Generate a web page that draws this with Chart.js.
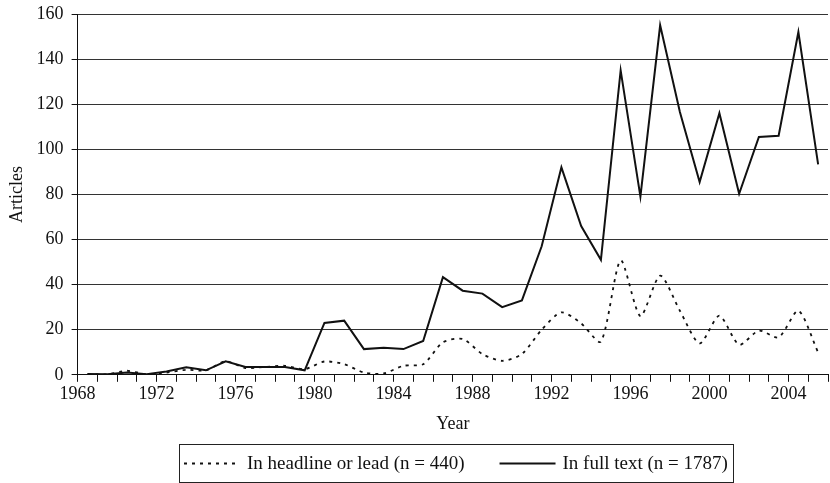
<!DOCTYPE html>
<html>
<head>
<meta charset="utf-8">
<script src="https://cdn.jsdelivr.net/npm/chart.js@4/dist/chart.umd.min.js"></script>
<style>
  html, body { margin: 0; padding: 0; background: #fff; }
  #wrap { width: 830px; height: 483px; }
</style>
</head>
<body>
<div id="wrap"><canvas id="chart"></canvas></div>
<script>
// years of the series (one point per year, plotted mid-year)
const years = [1968, 1969, 1970, 1971, 1972, 1973, 1974, 1975, 1976, 1977,
    1978, 1979, 1980, 1981, 1982, 1983, 1984, 1985, 1986, 1987,
    1988, 1989, 1990, 1991, 1992, 1993, 1994, 1995, 1996, 1997,
    1998, 1999, 2000, 2001, 2002, 2003, 2004, 2005];

const headlineOrLead = [0.3, 0.2, 1.8, 0.2, 1, 2.2, 2, 6, 3, 3.5,
    4, 2.5, 5.9, 4.7, 1, 0.6, 4, 4.7, 14.4, 15.9,
    9.2, 6.2, 9.2, 20, 27.7, 22.8, 14.7, 50.7, 26, 44,
    28.4, 13.9, 26.2, 13.3, 19.6, 16.6, 28.4, 9.9];

const fullText = [0.4, 0.2, 1, 0.3, 1.5, 3.3, 2, 6, 3.5, 3.5,
    3.5, 2, 23, 24, 11.4, 12, 11.4, 15, 43.3, 37.3,
    36, 30, 33, 57, 92, 66, 51, 135, 79, 155,
    116.5, 85.5, 116, 80.3, 105.5, 106, 152, 93.3];

const seriesLabels = ['In headline or lead (n = 440)', 'In full text (n = 1787)'];
const yearLabels = [1968, 1972, 1976, 1980, 1984, 1988, 1992, 1996, 2000, 2004];

const serif = "'Liberation Serif', 'DejaVu Serif', serif";

function toPoints(values) {
    return values.map(function (v, i) {
        return { x: years[i] + 0.5, y: v };
    });
}

// boxed legend under the axis title, drawn like the printed figure
const boxedLegend = {
    id: 'boxedLegend',
    afterDraw: function (chart) {
        const ctx = chart.ctx;
        const area = chart.chartArea;
        const sets = chart.data.datasets;
        const lineLen = 56, textGap = 7, itemGap = 35, pad = 5;

        ctx.save();
        ctx.font = '19px ' + serif;
        const widths = sets.map(function (ds) { return ctx.measureText(ds.label).width; });
        let total = 0;
        widths.forEach(function (w, i) { total += lineLen + textGap + w + (i ? itemGap : 0); });

        const boxW = Math.round(total + pad * 2);
        const boxH = 38;
        const boxLeft = Math.round((area.left + area.right) / 2 - boxW / 2 + 3);
        const boxTop = chart.height - boxH - 1;
        const midY = boxTop + boxH / 2;

        ctx.strokeStyle = '#222';
        ctx.lineWidth = 1;
        ctx.strokeRect(boxLeft + 0.5, boxTop + 0.5, boxW, boxH);

        let x = boxLeft + pad;
        sets.forEach(function (ds, i) {
            if (i) x += itemGap;
            ctx.beginPath();
            ctx.setLineDash(ds.borderDash || []);
            ctx.lineWidth = ds.borderWidth;
            ctx.strokeStyle = ds.borderColor;
            ctx.moveTo(x, Math.round(midY) + 0.5);
            ctx.lineTo(x + lineLen, Math.round(midY) + 0.5);
            ctx.stroke();
            ctx.setLineDash([]);
            x += lineLen + textGap;
            ctx.fillStyle = '#111';
            ctx.textBaseline = 'middle';
            ctx.textAlign = 'left';
            ctx.fillText(ds.label, x, midY + 1);
            x += widths[i];
        });
        ctx.restore();
    }
};

new Chart(document.getElementById('chart'), {
    type: 'line',
    data: {
        datasets: [{
            label: seriesLabels[0],
            data: toPoints(headlineOrLead),
            borderColor: '#111',
            borderWidth: 1.8,
            borderDash: [3, 5],
            tension: 0.25,
            pointRadius: 0,
            fill: false
        }, {
            label: seriesLabels[1],
            data: toPoints(fullText),
            borderColor: '#111',
            borderWidth: 2,
            tension: 0,
            pointRadius: 0,
            fill: false
        }]
    },
    options: {
        responsive: true,
        maintainAspectRatio: false,
        animation: false,
        layout: { padding: { left: 5, right: 0, top: 14, bottom: 48 } },
        plugins: {
            tooltip: { enabled: false },
            legend: { display: false }
        },
        scales: {
            x: {
                type: 'linear',
                min: 1968,
                max: 2006,
                border: { color: '#111', width: 1 },
                grid: {
                    drawOnChartArea: false,
                    drawTicks: true,
                    tickLength: 7,
                    tickColor: '#111'
                },
                ticks: {
                    stepSize: 1,
                    autoSkip: false,
                    maxRotation: 0,
                    padding: 2,
                    color: '#111',
                    font: { family: serif, size: 18 },
                    callback: function (v) {
                        return yearLabels.indexOf(v) >= 0 ? String(v) : '';
                    }
                },
                title: {
                    display: true,
                    text: 'Year',
                    color: '#111',
                    font: { family: serif, size: 18 },
                    padding: { top: 6, bottom: 0 }
                }
            },
            y: {
                min: 0,
                max: 160,
                border: { color: '#111', width: 1 },
                grid: {
                    color: '#333',
                    lineWidth: 1,
                    tickLength: 6,
                    tickColor: '#111'
                },
                ticks: {
                    stepSize: 20,
                    padding: 8,
                    color: '#111',
                    font: { family: serif, size: 18 }
                },
                title: {
                    display: true,
                    text: 'Articles',
                    color: '#111',
                    font: { family: serif, size: 18 },
                    padding: { top: 1, bottom: 1 }
                },
                afterFit: function (scale) {
                    // the top label may overhang the plot, as in the original
                    scale.paddingTop = 0;
                }
            }
        }
    },
    plugins: [boxedLegend]
});
</script>
</body>
</html>
